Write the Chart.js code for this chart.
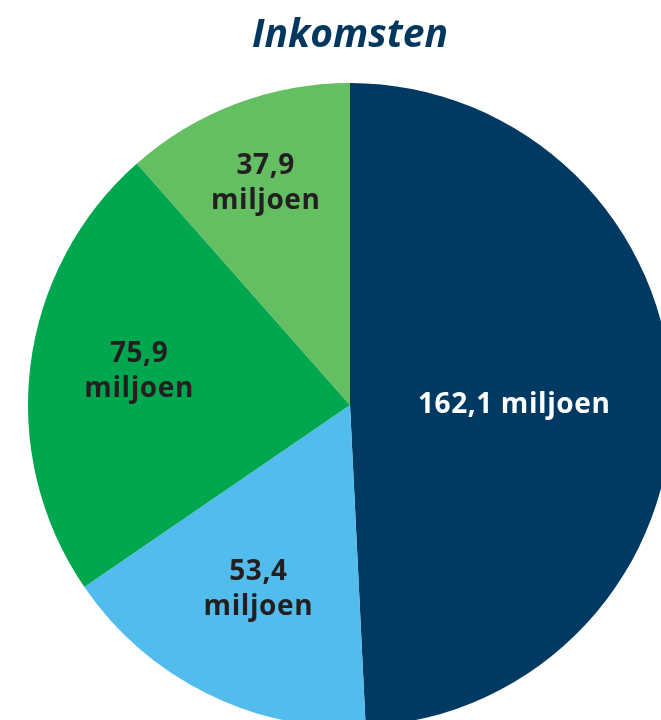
<!DOCTYPE html>
<html>
<head>
<meta charset="utf-8">
<script src="https://cdn.jsdelivr.net/npm/chart.js@4"></script>
<style>
  html, body { margin: 0; padding: 0; overflow: hidden; background: #fff; }
  #inkomsten { position: absolute; left: 0; top: 0; }
</style>
</head>
<body>
<canvas id="inkomsten" width="700" height="727"></canvas>
<script>
// Inkomsten in miljoen euro
var categorieen = ['Blok 1', 'Blok 2', 'Blok 3', 'Blok 4'];
var bedragen = [162.1, 53.4, 75.9, 37.9];
var kleuren = ['#003a63', '#52bced', '#00a74f', '#64be62'];
var tekstKleuren = ['#ffffff', '#231f20', '#231f20', '#231f20'];

// labels in the slices, drawn at a fraction of the radius along the slice's middle angle
var labelPlugin = {
  id: 'sliceLabels',
  afterDatasetsDraw: function (chart, args, opts) {
    var ctx = chart.ctx;
    var meta = chart.getDatasetMeta(0);
    ctx.save();
    ctx.font = 'bold 28px "Open Sans"';
    ctx.letterSpacing = '0.6px';
    ctx.textAlign = 'center';
    ctx.textBaseline = 'middle';
    meta.data.forEach(function (arc, i) {
      var p = arc.getProps(['x', 'y', 'startAngle', 'endAngle', 'outerRadius'], true);
      var mid = (p.startAngle + p.endAngle) / 2;
      var r = p.outerRadius * opts.afstand[i];
      var x = p.x + Math.cos(mid) * r;
      var y = p.y + Math.sin(mid) * r + opts.verschuif[i];
      var getal = bedragen[i].toLocaleString('nl-NL');
      var regels = opts.eenRegel[i] ? [getal + ' miljoen'] : [getal, 'miljoen'];
      ctx.fillStyle = tekstKleuren[i];
      var lh = 35;
      regels.forEach(function (t, j) {
        ctx.fillText(t, x, y + (j - (regels.length - 1) / 2) * lh);
      });
    });
    ctx.restore();
  }
};

new Chart(document.getElementById('inkomsten').getContext('2d'), {
  type: 'pie',
  data: {
    labels: categorieen,
    datasets: [{
      data: bedragen,
      backgroundColor: kleuren,
      borderWidth: 0
    }]
  },
  options: {
    responsive: false,
    animation: false,
    layout: { padding: { left: 28, right: 28, top: 0, bottom: 0 } },
    plugins: {
      legend: { display: false },
      tooltip: { enabled: false },
      title: {
        display: true,
        text: 'Inkomsten',
        color: '#00375f',
        font: { family: '"Open Sans"', size: 39, weight: 'bold', style: 'italic', lineHeight: 1.2 },
        padding: { top: 12, bottom: 24.2 }
      },
      sliceLabels: {
        afstand: [0.51, 0.64, 0.66, 0.74],
        verschuif: [4, 0, -7, 1],
        eenRegel: [true, false, false, false]
      }
    }
  },
  plugins: [labelPlugin]
});
</script>
</body>
</html>
